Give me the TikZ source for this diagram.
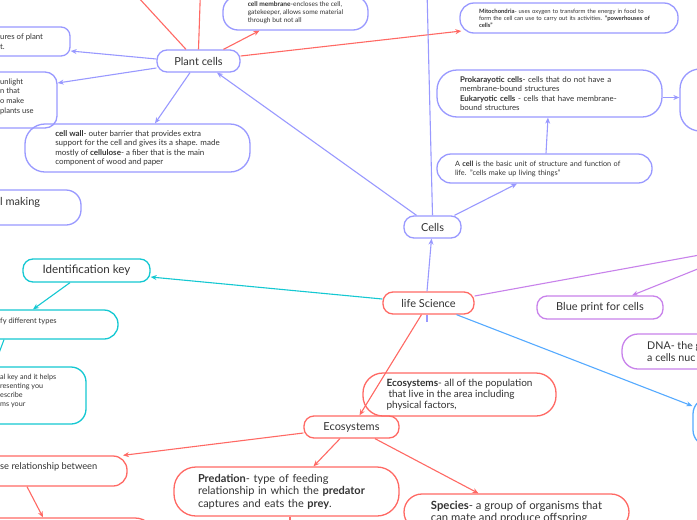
\documentclass[tikz,border=0pt]{standalone}
\usepackage{fontspec}
\setmainfont{Lato}
\usetikzlibrary{arrows.meta}
\definecolor{lav}{RGB}{153,153,255}
\definecolor{sal}{RGB}{255,105,100}
\definecolor{tealc}{RGB}{20,200,210}
\definecolor{orch}{RGB}{200,130,235}
\definecolor{skyb}{RGB}{85,170,255}
\definecolor{ink}{RGB}{51,51,51}
\newcommand{\fsz}[2]{\fontsize{#1}{#2}\selectfont}
\tikzset{
  mmbox/.style={draw=#1, line width=1.3pt, rounded corners=10pt, text=ink, inner sep=0pt, align=left},
  topic/.style={mmbox=#1, minimum height=22pt, font=\fsz{11}{13}},
  mmlink/.style={draw=#1, line width=1.1pt, -{Stealth[length=6pt,width=5pt]}},
  frag/.style={anchor=west, inner sep=0pt, text=ink, align=left},
}
\begin{document}
\begin{tikzpicture}[x=1pt, y=-1pt]
  \useasboundingbox (0,0) rectangle (697,520);
  \clip (0,0) rectangle (697,520);
  \fill[white] (0,0) rectangle (697,520);

  % トピック
  \node[topic=lav, minimum width=83pt] (plant) at (198.5,61) {Plant cells};
  \node[topic=lav, minimum width=57pt] (cells) at (432.5,227) {Cells};
  \node[topic=sal, minimum width=91pt] (life) at (428.5,303) {life Science};
  \node[topic=tealc, minimum width=127pt, minimum height=23pt, font=\fsz{11.6}{13}] (idkey) at (86.5,270.5) {Identification key};
  \node[topic=orch, minimum width=126pt, minimum height=23pt] (blueprint) at (600,307.5) {Blue print for cells};
  \node[topic=sal, minimum width=95pt] (ecosys) at (351.5,427) {Ecosystems};

  % 説明の箱
  \node[mmbox=lav, minimum width=225pt, minimum height=48pt, rounded corners=20pt, font=\fsz{8}{9.5}] (wall) at (137.5,148)
    {\textbf{cell wall}- outer barrier that provides extra\\support for the cell and gives its a shape. made\\mostly of \textbf{cellulose}- a fiber that is the main\\component of wood and paper};
  \node[mmbox=lav, minimum width=145pt, minimum height=34pt, rounded corners=15pt, font=\fsz{6.6}{8}] (cellmem) at (295.5,13)
    {\textbf{cell membrane}-encloses the cell,\\gatekeeper, allows some material\\through but not all};
  \node[mmbox=lav, minimum width=218pt, minimum height=30pt, rounded corners=14pt, text width=180pt, font=\fsz{5.9}{7}] (mito) at (569,18)
    {\textbf{Mitochondria}- uses oxygen to transform the energy in food to\\form the cell can use to carry out its activities. \textbf{"powerhouses of}\\\textbf{cells"}};
  \node[mmbox=lav, minimum width=225pt, minimum height=47pt, rounded corners=20pt, text width=179pt, font=\fsz{7.9}{9.4}] (prok) at (549.5,93.5)
    {\textbf{Prokarayotic cells}- cells that do not have a\\membrane-bound structures\\\textbf{Eukaryotic cells} - cells that have membrane-\\bound structures};
  \node[mmbox=lav, minimum width=215pt, minimum height=29pt, rounded corners=14pt, text width=179pt, font=\fsz{7.3}{9}] (acell) at (544.5,168.5)
    {A \textbf{cell} is the basic unit of structure and function of\\life. "cells make up living things"};
  \node[mmbox=sal, minimum width=193pt, minimum height=43pt, rounded corners=20pt, font=\fsz{10}{11}] (ecodef) at (459.5,394.5)
    {\textbf{Ecosystems}- all of the population\\\hspace*{2pt}that live in the area including\\physical factors,};
  \node[mmbox=sal, minimum width=225pt, minimum height=49pt, rounded corners=22pt, text width=177pt, font=\fsz{11}{12.5}] (pred) at (286.5,491.5)
    {\textbf{Predation}- type of feeding\\relationship in which the \textbf{predator}\\captures and eats the \textbf{prey}.};
  \node[mmbox=sal, minimum width=225pt, minimum height=36pt, rounded corners=18pt, font=\fsz{11.3}{12}] (species) at (516.5,512)
    {\textbf{Species}- a group of organisms that\\can mate and produce offspring};

  % 端で切れた箱
  \node[mmbox=lav, minimum width=100pt, minimum height=29pt, rounded corners=9pt] (featbox) at (20,41.5) {};
  \node[frag, font=\fsz{7.8}{10}] (feattext) at (0,42) {ures of plant\\t.};
  \node[mmbox=lav, minimum width=87pt, minimum height=56pt, rounded corners=12pt] (chlorobox) at (13.5,100) {};
  \node[frag, font=\fsz{7.6}{9.7}] (chlorotext) at (0,96.5) {unlight\\n that\\o make\\plants use};
  \node[mmbox=lav, minimum width=111pt, minimum height=35pt, rounded corners=15pt] (makebox) at (25.5,207.5) {};
  \node[frag, font=\fsz{11}{13}] (maketext) at (0,202) {l making};
  \node[mmbox=tealc, minimum width=158pt, minimum height=29pt, rounded corners=14pt] (sorttbox) at (39,324.5) {};
  \node[frag, font=\fsz{7.5}{9}] (sorttext) at (0,321) {fy different types};
  \node[mmbox=tealc, minimum width=126pt, minimum height=57pt, rounded corners=15pt] (dichobox) at (23,395.5) {};
  \node[frag, font=\fsz{7.2}{9.3}] (dichotext) at (0,391) {al key and it helps\\resenting you\\escribe\\ms your};
  \node[mmbox=sal, minimum width=167pt, minimum height=30pt, rounded corners=14pt] (relbox) at (43.5,471) {};
  \node[frag, font=\fsz{9.3}{10}] (reltext) at (0,467) {se relationship between};
  \node[mmbox=sal, minimum width=195pt, minimum height=52pt, rounded corners=20pt] (lowbox) at (57.5,544) {};
  \node[mmbox=lav, minimum width=110pt, minimum height=62pt, rounded corners=20pt] (kindbox) at (735,100) {};
  \node[mmbox=orch, minimum width=138pt, minimum height=35pt, rounded corners=16pt] (dnabox) at (691,351.5) {};
  \node[frag, font=\fsz{10.7}{12}] (dnatext) at (647,352) {DNA- the g\\a cells nuc};
  \node[mmbox=skyb, minimum width=97pt, minimum height=48pt, rounded corners=16pt] (bluebox) at (741.5,422) {};

  % 画面外の端点
  \coordinate (upcell) at (426.5,-30);
  \coordinate (plantnw) at (104,-40);
  \coordinate (plantn) at (201.5,-40);
  \coordinate (dnahub) at (760,244);
  \coordinate (lifestub) at (427,322);
  \coordinate (predlow) at (290,545);

  % Plant cells から
  \draw[mmlink=lav] ([yshift=2pt]plant.west) -- ([yshift=-9.5pt]featbox.east);
  \draw[mmlink=lav] ([yshift=-7pt]plant.west) -- ([yshift=17pt]chlorobox.east);
  \draw[mmlink=lav] ([xshift=-8.5pt]plant.south) -- ([xshift=17.5pt]wall.north);
  \draw[mmlink=sal] ([xshift=-12.5pt]plant.north) -- (plantnw);
  \draw[mmlink=sal] (plant.north) -- (plantn);
  \draw[mmlink=sal] ([xshift=25pt]plant.north) -- ([xshift=-36pt]cellmem.south);
  \draw[mmlink=sal] ([yshift=5pt]plant.east) -- ([xshift=2pt,yshift=-13pt]mito.west);

  % Cells から
  \draw[mmlink=lav] ([xshift=-16pt]cells.north) -- ([xshift=18.5pt]plant.south);
  \draw[mmlink=lav] (cells.north) -- (upcell);
  \draw[mmlink=lav] ([xshift=22pt]cells.north) -- ([xshift=-27.5pt]acell.south);
  \draw[mmlink=lav] ([xshift=1.5pt]acell.north) -- ([xshift=-1.5pt]prok.south);
  \draw[mmlink=lav] ([yshift=-4pt]prok.east) -- ([yshift=2.5pt]kindbox.west);

  % life Science から
  \draw[mmlink=lav] ([xshift=-1.5pt]life.north) -- ([xshift=-1pt]cells.south);
  \draw[lav, line width=1.1pt] ([xshift=-1.5pt]life.south) -- (lifestub);
  \draw[mmlink=tealc] ([yshift=4pt]life.west) -- ([yshift=-6.5pt]idkey.east);
  \draw[mmlink=orch] ([yshift=7pt]life.east) -- (dnahub);
  \draw[mmlink=orch] (dnahub) -- ([xshift=32pt]blueprint.north);
  \draw[mmlink=skyb] ([xshift=28pt]life.south) -- ([yshift=16pt]bluebox.west);
  \draw[mmlink=sal] ([xshift=-7pt]life.south) -- ([xshift=8pt]ecosys.north);

  % Identification key から
  \draw[mmlink=tealc] ([xshift=-16.5pt]idkey.south) -- ([xshift=-6pt]sorttbox.north);
  \draw[mmlink=tealc] ([xshift=-35pt]sorttbox.south) -- ([xshift=-29pt]dichobox.north);

  % Ecosystems から
  \draw[mmlink=sal] ([yshift=-6pt]ecosys.west) -- ([xshift=79.5pt]relbox.north);
  \draw[mmlink=sal] ([xshift=-11.5pt]ecosys.south) -- ([xshift=27pt]pred.north);
  \draw[mmlink=sal] ([xshift=23.5pt]ecosys.south) -- ([xshift=-38pt]species.north);
  \draw[mmlink=sal] ([xshift=-16.5pt]relbox.south) -- ([xshift=-14.5pt]lowbox.north);
  \draw[mmlink=sal] ([xshift=3.5pt]pred.south) -- (predlow);
\end{tikzpicture}
\end{document}
